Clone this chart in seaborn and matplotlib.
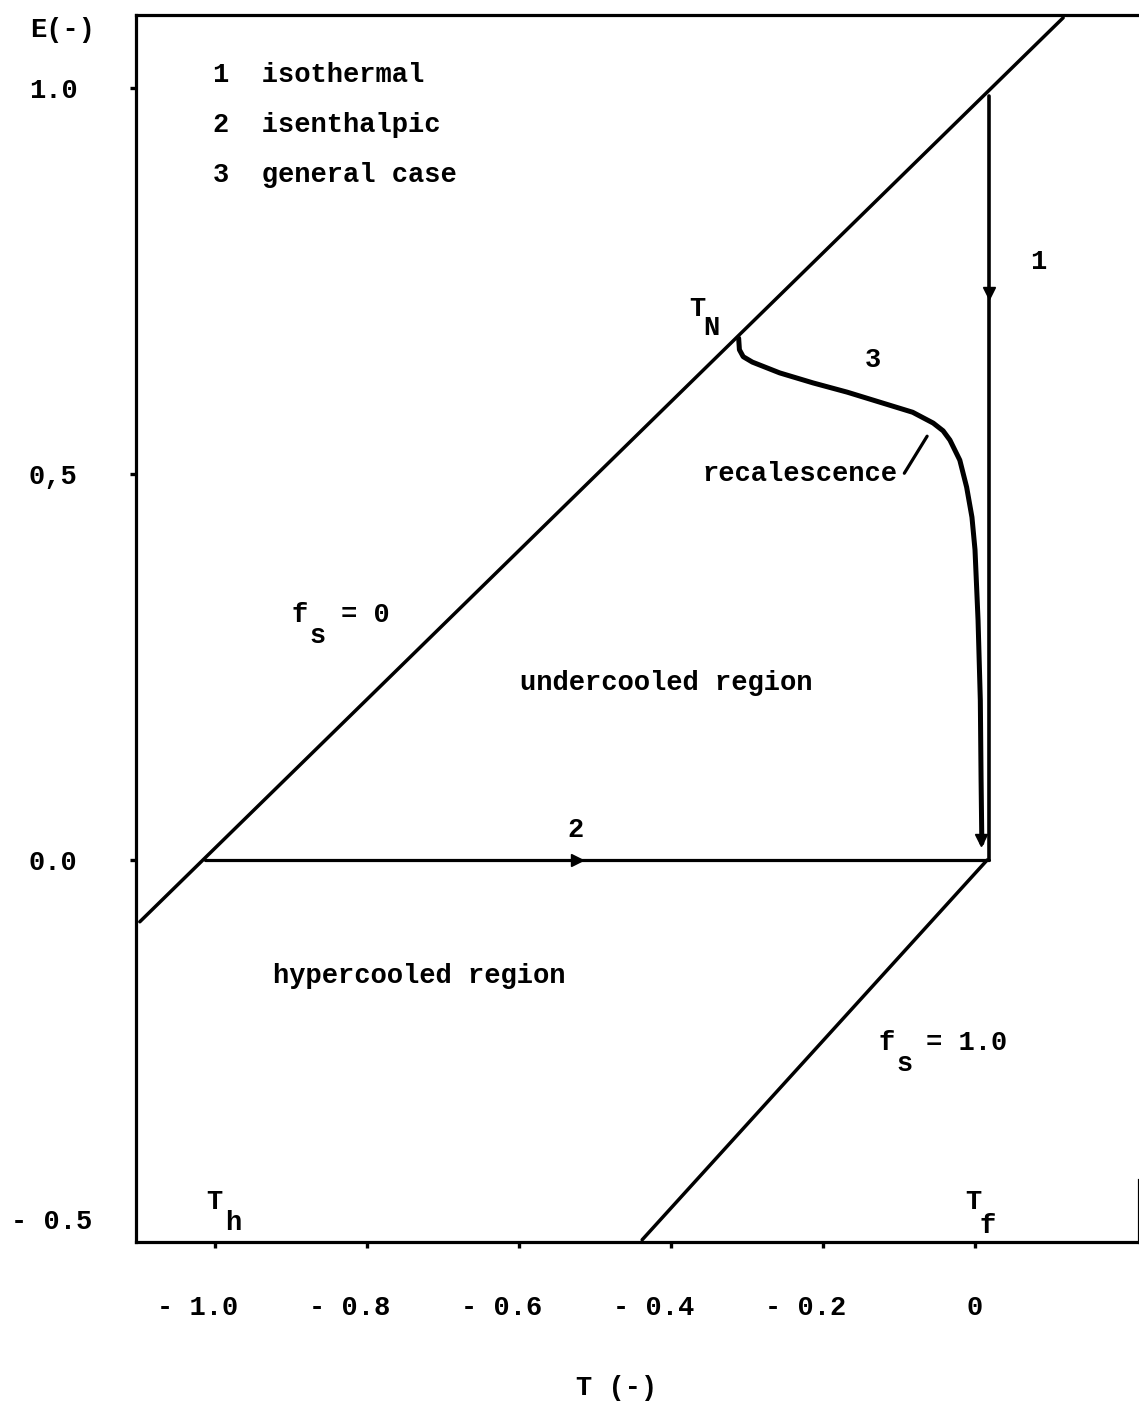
import matplotlib
matplotlib.use('Agg')
import matplotlib.pyplot as plt
import seaborn as sns
import pandas as pd
from matplotlib.transforms import ScaledTranslation

# Enthalpy-temperature diagram (dimensionless)
FS0_T = [-1.099, 0.116]          # f_s = 0 line
FS0_E = [-0.080, 1.091]
FS1_T = [-0.438, 0.016]          # f_s = 1.0 line
FS1_E = [-0.492, 0.000]
ISOTH_T = [0.018, 0.018]         # 1 isothermal
ISOTH_E = [0.990, 0.000]
ISENTH_T = [-1.013, 0.018]       # 2 isenthalpic
ISENTH_E = [0.000, 0.000]
GEN_T = [-0.311, -0.310, -0.305, -0.293, -0.257, -0.213, -0.168, -0.125, -0.082,
         -0.055, -0.042, -0.033, -0.020, -0.011, -0.004, 0.000, 0.004, 0.007, 0.008, 0.009]
GEN_E = [0.676, 0.661, 0.652, 0.645, 0.631, 0.618, 0.606, 0.593, 0.580,
         0.566, 0.556, 0.544, 0.518, 0.483, 0.444, 0.402, 0.311, 0.207, 0.104, 0.022]
RECAL_T = [-0.093, -0.063]       # leader line for "recalescence"
RECAL_E = [0.501, 0.549]

# arrow heads: (T, E, direction)
ARROW_T = [0.018, -0.524, 0.008]
ARROW_E = [0.734, 0.000, 0.026]
ARROW_M = ['v', '>', 'v']

X_TICKS = [-1.0, -0.8, -0.6, -0.4, -0.2, 0.0]
X_LABELS = ['- 1.0', '- 0.8', '- 0.6', '- 0.4', '- 0.2', '0']
Y_TICKS = [0.0, 0.5, 1.0]
Y_LABELS = ['0.0', '0,5', '1.0']

sns.set_theme(style='white')
plt.rcParams['font.family'] = ['Liberation Mono', 'DejaVu Sans']
plt.rcParams['font.weight'] = 'bold'
plt.rcParams['text.color'] = 'black'
FS = 19.5

W, H = 1139, 1402
fig = plt.figure(figsize=(W / 100, H / 100), dpi=100)
ax = fig.add_axes([136 / W, 1 - 1242 / H, (W - 136) / W, (1242 - 15) / H])
ax.set_xlim(-1.104, 0.2158)
ax.set_ylim(-0.4948, 1.0946)

lines = [
    (FS0_T, FS0_E, 2.5),
    (FS1_T, FS1_E, 2.5),
    (ISOTH_T, ISOTH_E, 2.6),
    (ISENTH_T, ISENTH_E, 2.3),
    (GEN_T, GEN_E, 3.6),
    (RECAL_T, RECAL_E, 2.3),
]
for t, e, lw in lines:
    df = pd.DataFrame({'T': t, 'E': e})
    sns.lineplot(data=df, x='T', y='E', sort=False, estimator=None,
                 color='black', lw=lw, ax=ax, solid_capstyle='round',
                 solid_joinstyle='round')

for t, e, m in zip(ARROW_T, ARROW_E, ARROW_M):
    ax.plot([t], [e], marker=m, ms=9, color='black', ls='none')

# frame
for side in ['left', 'top', 'bottom', 'right']:
    ax.spines[side].set_color('black')
    ax.spines[side].set_linewidth(2.3)
ax.spines['right'].set_bounds(-0.4948, -0.415)

ax.set_xticks(X_TICKS)
ax.set_xticklabels(X_LABELS)
ax.set_yticks(Y_TICKS)
ax.set_yticklabels(Y_LABELS)
ax.tick_params(axis='both', direction='out', length=4, width=2.4, color='black',
               labelsize=FS, labelcolor='black')
ax.tick_params(axis='x', pad=34)
ax.tick_params(axis='y', pad=38)
ax.tick_params(bottom=True, left=True)
for lab in ax.get_xticklabels():
    if lab.get_text().startswith('-'):
        lab.set_transform(lab.get_transform() + ScaledTranslation(-0.17, 0, fig.dpi_scale_trans))
ax.set_xlabel('')
ax.set_ylabel('')
ax.grid(False)


def px(x, y):
    # figure-pixel position -> data coords
    return (x - 975) / 760, (860 - y) / 772


def put(x, y, s, **kw):
    tx, ty = px(x, y)
    ax.text(tx, ty, s, fontsize=FS, color='black', ha=kw.pop('ha', 'center'),
            va='center', **kw)


put(213, 75, '1  isothermal', ha='left')
put(213, 125, '2  isenthalpic', ha='left')
put(213, 175, '3  general case', ha='left')
put(1038, 262, '1')
put(697, 309, 'T')
put(711, 328, 'N')
put(873, 360, '3')
put(800, 474, 'recalescence')
put(300, 615, 'f')
put(318, 636, 's')
put(365, 615, '= 0')
put(666, 683, 'undercooled region')
put(575, 830, '2')
put(419, 976, 'hypercooled region')
put(887, 1043, 'f')
put(905, 1064, 's')
put(967, 1043, '= 1.0')
put(214, 1202, 'T')
put(233, 1223, 'h')
put(973, 1202, 'T')
put(988, 1226, 'f')

fig.text(63 / W, 1 - 30 / H, 'E(-)', fontsize=FS, ha='center', va='center', color='black')
fig.text(52 / W, 1 - 1222 / H, '- 0.5', fontsize=FS, ha='center', va='center', color='black')
fig.text(617 / W, 1 - 1388 / H, 'T (-)', fontsize=FS, ha='center', va='center', color='black')

fig.savefig('out.png', dpi=100, facecolor='white')
